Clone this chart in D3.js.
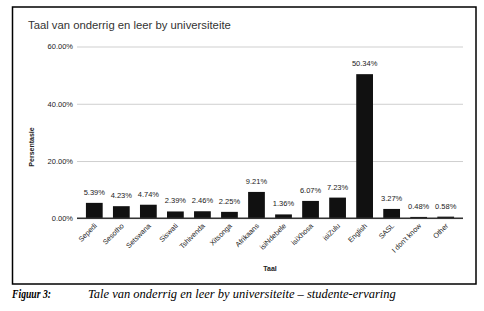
<!DOCTYPE html>
<html>
<head>
<meta charset="utf-8">
<script src="https://cdn.jsdelivr.net/npm/d3@7"></script>
<style>
  html, body { margin: 0; padding: 0; background: #fff; }
  svg { display: block; }
</style>
</head>
<body>
<svg id="chart" width="484" height="311"></svg>
<script>
const categories = ["Sepedi", "Sesotho", "Setswana", "Siswati", "Tshivenda", "Xitsonga", "Afrikaans", "isiNdebele", "isiXhosa", "isiZulu", "English", "SASL", "I don't know", "Other"];
const values = [5.39, 4.23, 4.74, 2.39, 2.46, 2.25, 9.21, 1.36, 6.07, 7.23, 50.34, 3.27, 0.48, 0.58];
const yTicks = [0, 20, 40, 60];
const titleText = "Taal van onderrig en leer by universiteite";
const xTitle = "Taal";
const yTitle = "Persentasie";
const captionLabel = "Figuur 3:";
const captionText = "Tale van onderrig en leer by universiteite – studente-ervaring";

const svg = d3.select("#chart");
const sans = "'Liberation Sans', Arial, Helvetica, sans-serif";
const serif = "'Liberation Serif', 'Times New Roman', serif";

// frame
svg.append("rect")
  .attr("x", 12.5).attr("y", 7).attr("width", 463.5).attr("height", 277)
  .attr("fill", "none").attr("stroke", "#000").attr("stroke-width", 1.5);

svg.append("text")
  .attr("x", 28).attr("y", 28.5)
  .attr("font-family", sans).attr("font-size", 11.3)
  .attr("fill", "#333")
  .text(titleText);

const x = d3.scaleBand().domain(categories).range([77, 463]).paddingInner(0.38).paddingOuter(0.33);
const y = d3.scaleLinear().domain([0, 60]).range([218.3, 46.5]);

// gridlines + y labels
const yAxis = d3.axisLeft(y).tickValues(yTicks).tickSize(-(463 - 77)).tickPadding(4)
  .tickFormat(d => d3.format(".2f")(d) + "%");
const gy = svg.append("g").attr("transform", "translate(77,0)").call(yAxis);
gy.select(".domain").remove();
gy.selectAll(".tick line").attr("stroke", "#cfcfcf").attr("stroke-width", 1);
gy.selectAll(".tick text").attr("font-family", sans).attr("font-size", 7.5).attr("fill", "#222");

// bars
svg.append("g").selectAll("rect").data(categories).join("rect")
  .attr("x", d => x(d))
  .attr("y", (d, i) => y(values[i]))
  .attr("width", x.bandwidth())
  .attr("height", (d, i) => y(0) - y(values[i]))
  .attr("fill", "#111");

// value labels
svg.append("g").selectAll("text").data(categories).join("text")
  .attr("x", d => x(d) + x.bandwidth() / 2)
  .attr("y", (d, i) => y(values[i]) - 8)
  .attr("text-anchor", "middle")
  .attr("font-family", sans).attr("font-size", 7.5).attr("fill", "#222")
  .text((d, i) => d3.format(".2f")(values[i]) + "%");

// x axis baseline + labels
const xAxis = d3.axisBottom(x).tickSize(0).tickPadding(0);
const gx = svg.append("g").attr("transform", `translate(0,${y(0)})`).call(xAxis);
gx.select(".domain").attr("stroke", "#333").attr("stroke-width", 1.5).attr("d", "M77,0H463");
gx.selectAll(".tick text")
  .attr("font-family", sans).attr("font-size", 7.2).attr("fill", "#222")
  .attr("text-anchor", "end")
  .attr("dy", 0)
  .attr("transform", "translate(3,8) rotate(-45)");

// axis titles
svg.append("text")
  .attr("x", 270).attr("y", 271)
  .attr("text-anchor", "middle")
  .attr("font-family", sans).attr("font-size", 7).attr("font-weight", "bold").attr("fill", "#222")
  .text(xTitle);

svg.append("text")
  .attr("transform", "translate(34,147) rotate(-90)")
  .attr("text-anchor", "middle")
  .attr("font-family", sans).attr("font-size", 7).attr("font-weight", "bold").attr("fill", "#222")
  .text(yTitle);

// caption
svg.append("text")
  .attr("x", 12).attr("y", 298)
  .attr("font-family", serif).attr("font-size", 12).attr("font-style", "italic").attr("font-weight", "bold")
  .attr("fill", "#000")
  .attr("textLength", 39).attr("lengthAdjust", "spacingAndGlyphs")
  .text(captionLabel);
svg.append("text")
  .attr("x", 88).attr("y", 298)
  .attr("font-family", serif).attr("font-size", 12.5).attr("font-style", "italic")
  .attr("fill", "#000")
  .text(captionText);
</script>
</body>
</html>
